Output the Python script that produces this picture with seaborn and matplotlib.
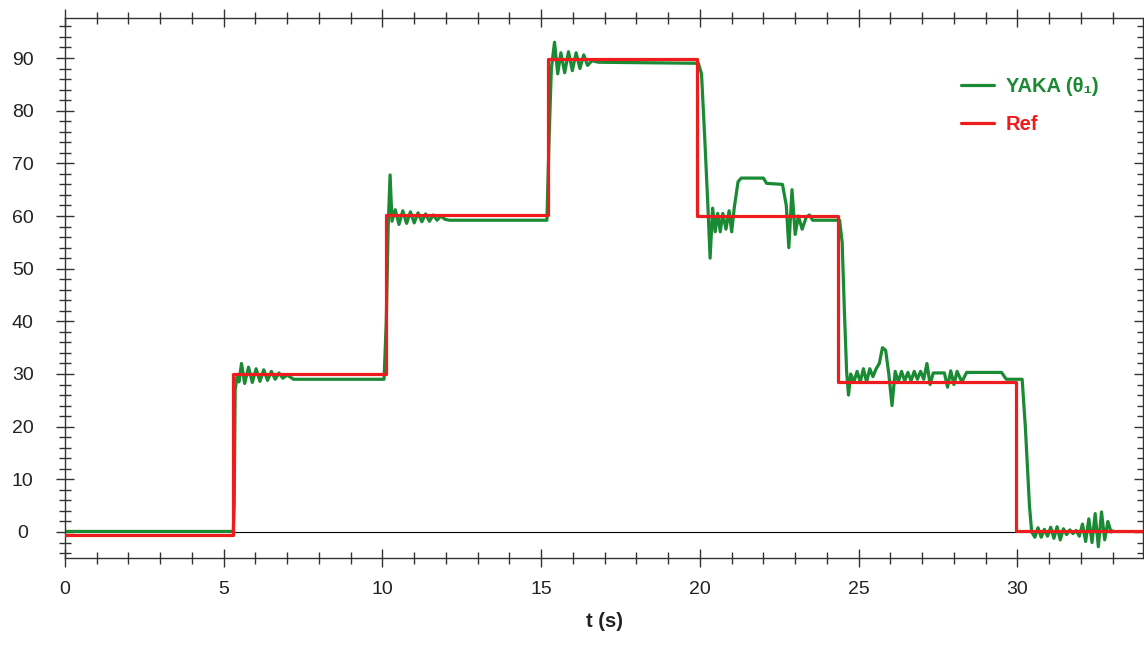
import numpy as np
import pandas as pd
import matplotlib
matplotlib.use("Agg")
import matplotlib.pyplot as plt
import seaborn as sns
from matplotlib.ticker import MultipleLocator

# -------------------------
# Data
ref_t = [0.0, 5.3, 10.1, 15.2, 19.92, 24.35, 29.97, 34.0]
ref_y = [-0.5, 30.0, 60.1, 89.8, 60.0, 28.5, 0.2, 0.2]

yaka_t = [0.0, 5.30, 5.33, 5.36, 5.42, 5.48, 5.56, 5.66, 5.78, 5.90, 6.02, 6.14, 6.26,
          6.38, 6.50, 6.62, 6.74, 6.86, 7.00, 7.20, 10.05, 10.12, 10.18, 10.24, 10.30,
          10.40, 10.52, 10.64, 10.76, 10.88, 11.00, 11.12, 11.24, 11.36, 11.48, 11.60,
          11.72, 11.84, 11.96, 12.10, 15.18, 15.25, 15.32, 15.42, 15.52, 15.62, 15.74,
          15.86, 15.98, 16.10, 16.22, 16.34, 16.46, 16.60, 16.80, 19.95, 20.05, 20.15,
          20.25, 20.32, 20.40, 20.48, 20.56, 20.64, 20.72, 20.82, 20.92, 21.00, 21.08,
          21.20, 21.30, 22.00, 22.10, 22.60, 22.72, 22.80, 22.90, 23.00, 23.10, 23.22,
          23.35, 23.45, 23.55, 24.40, 24.48, 24.55, 24.62, 24.68, 24.75, 24.85, 24.95,
          25.05, 25.15, 25.25, 25.35, 25.45, 25.55, 25.65, 25.75, 25.85, 25.95, 26.05,
          26.15, 26.25, 26.35, 26.45, 26.55, 26.65, 26.75, 26.85, 26.95, 27.05, 27.15,
          27.25, 27.35, 27.70, 27.80, 27.90, 28.00, 28.10, 28.25, 28.40, 29.50, 29.65,
          30.15, 30.25, 30.38, 30.45, 30.55, 30.65, 30.75, 30.85, 30.95, 31.05, 31.15,
          31.25, 31.35, 31.45, 31.55, 31.65, 31.75, 31.85, 31.95, 32.05, 32.15, 32.25,
          32.35, 32.45, 32.55, 32.65, 32.75, 32.85, 32.95, 33.00]
yaka_y = [0.1, 0.1, 5.0, 27.0, 29.5, 28.5, 32.0, 28.2, 31.3, 28.4, 31.0, 28.6, 30.8,
          28.8, 30.5, 29.0, 30.2, 29.2, 29.8, 29.0, 29.0, 40.0, 58.0, 67.8, 59.0,
          61.2, 58.4, 61.0, 58.6, 60.8, 58.7, 60.6, 58.9, 60.4, 59.0, 60.2,
          59.2, 60.0, 59.4, 59.2, 59.2, 75.0, 88.0, 93.0, 87.0, 91.0, 87.2,
          91.2, 87.6, 91.0, 88.0, 90.6, 88.6, 89.5, 89.2, 89.0, 87.0, 75.0,
          62.0, 52.0, 61.5, 57.0, 60.5, 57.0, 60.5, 57.5, 61.0, 57.0, 61.5,
          66.5, 67.2, 67.2, 66.2, 66.0, 62.0, 54.0, 65.0, 56.5, 60.0, 57.5,
          59.8, 60.2, 59.2, 59.2, 55.0, 42.0, 30.5, 26.0, 30.0, 28.5, 30.5,
          28.5, 31.0, 28.5, 31.0, 29.5, 31.0, 32.0, 35.0, 34.5, 30.0, 24.0,
          30.5, 28.5, 30.5, 28.7, 30.3, 28.7, 30.5, 29.0, 30.5, 29.0, 32.0,
          28.0, 30.2, 30.2, 27.5, 30.6, 28.0, 30.5, 28.5, 30.3, 30.3, 29.0,
          29.0, 20.0, 5.0, 0.0, -1.0, 0.8, -1.0, 0.5, -0.8, 0.9, -1.2,
          1.0, -1.5, 0.6, -0.5, 0.4, -0.3, 0.3, -0.8, 1.5, -1.8, 2.5,
          -2.0, 3.5, -2.8, 3.8, -1.5, 2.0, 0.0, 0.2]

x_ticks = [0, 5, 10, 15, 20, 25, 30]
y_ticks = [0, 10, 20, 30, 40, 50, 60, 70, 80, 90]

green = "#1b8a34"
red = "#ee1c1c"

# -------------------------
# Plot
sns.set_style("ticks")
plt.rcParams["font.family"] = ["Liberation Sans", "DejaVu Sans"]

yaka = pd.DataFrame({"t": yaka_t, "theta": yaka_y})
ref = pd.DataFrame({"t": ref_t, "theta": ref_y})

fig = plt.figure(figsize=(11.44, 6.48), dpi=100)
ax = fig.add_axes([65 / 1144, 1 - 558 / 648, 1 - 65 / 1144 - 0.0005, (558 - 18) / 648])

ax.axhline(0, color="black", lw=0.8, zorder=1)
sns.lineplot(data=yaka, x="t", y="theta", ax=ax, color=green, lw=2.3,
             estimator=None, sort=False, label="YAKA (θ₁)", zorder=2)
sns.lineplot(data=ref, x="t", y="theta", ax=ax, color=red, lw=2.3,
             estimator=None, sort=False, drawstyle="steps-post", label="Ref", zorder=3)

ax.set_xlim(0, 33.97)
ax.set_ylim(-4.94, 97.6)
ax.set_xticks(x_ticks)
ax.set_yticks(y_ticks)
ax.xaxis.set_minor_locator(MultipleLocator(1))
ax.yaxis.set_minor_locator(MultipleLocator(2))
ax.tick_params(which="both", direction="inout", top=True, right=True,
               colors="#333333", labelcolor="#222222", labelsize=14, width=1)
ax.tick_params(which="major", length=13, pad=10)
ax.tick_params(which="minor", length=8)
# y labels in the reference are centred in the margin
ax.tick_params(axis="y", which="major", pad=24)
for lab in ax.get_yticklabels():
    lab.set_horizontalalignment("center")
for s in ax.spines.values():
    s.set_color("#333333")
    s.set_linewidth(1)

ax.set_xlabel("t (s)", fontsize=14.5, fontweight="bold", color="#222222", labelpad=10)
ax.set_ylabel("")

leg = ax.legend(loc="upper right", bbox_to_anchor=(0.975, 0.925), frameon=False,
                fontsize=14.5, handlelength=1.6, labelspacing=0.95, handletextpad=0.6)
for txt, col in zip(leg.get_texts(), [green, red]):
    txt.set_color(col)
    txt.set_fontweight("bold")

fig.savefig("out.png", dpi=100)
